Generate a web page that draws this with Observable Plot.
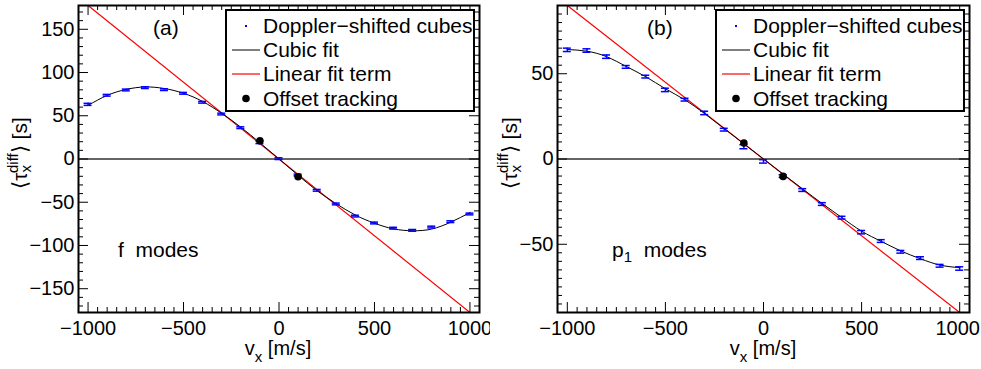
<!DOCTYPE html>
<html><head><meta charset="utf-8">
<script src="https://cdn.jsdelivr.net/npm/d3@7"></script>
<script src="https://cdn.jsdelivr.net/npm/@observablehq/plot@0.6"></script>
<style>
body{margin:0;background:#fff;}
#wrap{position:relative;width:981px;height:369px;display:flex;}
#wrap svg{display:block;}
</style></head><body><div id="wrap"></div>
<script>
// ---- data ----
const vx = [-1000,-900,-800,-700,-600,-500,-400,-300,-200,-100,0,100,200,300,400,500,600,700,800,900,1000];
// panel (a) f modes
const tauA = [63.2,73.7,79.8,82.5,80.2,76,65.6,52,36.2,19.3,0.4,-18.5,-36.2,-52,-66,-74,-80,-82.5,-78.7,-72.5,-63.6];
const errA = [1.2,1,1,1,1,1,1,1,1,1.5,1,1,1,1,1,1,1,1,1,1,1];
const fitA = [62,73.5,80.5,83.3,81.5,76,66.5,52.8,36.8,18.8,0,-18.8,-36.8,-51.8,-64.8,-74.3,-80.8,-83,-81,-73,-62];
const linX = [-1000,1000];
const linA = [177.5,-177.5];
const offX = [-100,100];
const offA = [21,-20.5];
// panel (b) p1 modes
const tauB = [64,63.6,60,54,48.3,40.5,34.8,27,17.2,7.2,-1.4,-10,-18.2,-26.4,-34.4,-42.9,-48.1,-54.4,-58.1,-62.6,-64.2];
const errB = [1,1,1,0.8,0.8,1,0.8,1,0.8,1.2,1,0.8,0.8,0.8,0.8,1,0.8,0.8,0.8,0.8,1];
const fitB = [64.2,63.2,60,54.3,48.2,41.2,34.6,26.6,17.8,8.9,0,-8.9,-17.6,-26.2,-34.4,-42.3,-48.3,-53.9,-58.5,-62.2,-63.7];
const linB = [90,-90];
const offB = [9.4,-10.2];
// ticks
const xMajor = [-1000,-500,0,500,1000];
const yMajorA = [-150,-100,-50,0,50,100,150];
const yMajorB = [-50,0,50];
const legendLabels = ["Doppler\u2212shifted cubes","Cubic fit","Linear fit term","Offset tracking"];

const FONT = '"Liberation Sans", Arial, Helvetica, sans-serif';
const FS = 21, SFS = 15, TFS = 20;
const fmt = d => d < 0 ? "\u2212" + Math.abs(d) : String(d);
const range = (a, b, s) => d3.range(a, b + s / 2, s);

function panel(o) {
  const H = 369, mt = 5, mb = 57;
  const xd = [-1050, 1050];
  const pxX = (xd[1] - xd[0]) / (o.width - o.ml - o.mr);
  const pxY = (o.yd[1] - o.yd[0]) / (H - mt - mb);
  const pts = vx.map((x, i) => ({x, y: o.tau[i], e: o.err[i]}));
  const fit = vx.map((x, i) => ({x, y: o.fit[i]}));
  const lin = linX.map((x, i) => ({x, y: o.lin[i]}));
  const off = offX.map((x, i) => ({x, y: o.off[i]}));
  const xMinor = range(-1050, 1050, 50).filter(v => !xMajor.includes(v) && v > xd[0] && v < xd[1]);
  const yMinor = range(Math.ceil(o.yd[0] / o.ystep) * o.ystep, o.yd[1], o.ystep).filter(v => !o.yMajor.includes(v) && v > o.yd[0] && v < o.yd[1]);
  const [y0, y1] = o.yd, [x0, x1] = xd;
  const capW = 4 * pxX;
  const tk = (len) => ({
    bx: {y1: y0, y2: y0 + len * pxY},
    tx: {y1: y1, y2: y1 - len * pxY},
    ly: {x1: x0, x2: x0 + len * pxX},
    ry: {x1: x1, x2: x1 - len * pxX}
  });
  const M = tk(10), m = tk(5);
  const tickStyle = {stroke: "black", strokeWidth: 1};
  const chart = Plot.plot({
    width: o.width, height: H,
    marginLeft: o.ml, marginRight: o.mr, marginTop: mt, marginBottom: mb,
    x: {domain: xd},
    y: {domain: o.yd},
    style: {fontFamily: FONT, fontSize: TFS + "px", color: "black", background: "white", overflow: "visible"},
    marks: [
      Plot.ruleY([0], {stroke: "#333", strokeWidth: 1.5}),
      Plot.line(lin, {x: "x", y: "y", stroke: "#ff0000", strokeWidth: 1.2, clip: true}),
      Plot.line(fit, {x: "x", y: "y", stroke: "black", strokeWidth: 1, curve: "natural"}),
      Plot.ruleX(pts, {x: "x", y1: d => d.y - d.e, y2: d => d.y + d.e, stroke: "#0000ff", strokeWidth: 1.5}),
      Plot.ruleY(pts, {y: d => d.y - d.e, x1: d => d.x - capW, x2: d => d.x + capW, stroke: "#0000ff", strokeWidth: 1.5}),
      Plot.ruleY(pts, {y: d => d.y + d.e, x1: d => d.x - capW, x2: d => d.x + capW, stroke: "#0000ff", strokeWidth: 1.5}),
      Plot.dot(off, {x: "x", y: "y", r: 3.8, fill: "black"}),
      // inward ticks on all four sides
      Plot.ruleX(xMajor, {x: d => d, ...M.bx, ...tickStyle}),
      Plot.ruleX(xMajor, {x: d => d, ...M.tx, ...tickStyle}),
      Plot.ruleX(xMinor, {x: d => d, ...m.bx, ...tickStyle}),
      Plot.ruleX(xMinor, {x: d => d, ...m.tx, ...tickStyle}),
      Plot.ruleY(o.yMajor, {y: d => d, ...M.ly, ...tickStyle}),
      Plot.ruleY(o.yMajor, {y: d => d, ...M.ry, ...tickStyle}),
      Plot.ruleY(yMinor, {y: d => d, ...m.ly, ...tickStyle}),
      Plot.ruleY(yMinor, {y: d => d, ...m.ry, ...tickStyle}),
      Plot.frame({stroke: "black", strokeWidth: 2}),
      Plot.axisX({ticks: xMajor.slice(0, -1), tickSize: 0, tickPadding: 8, tickFormat: fmt, label: null}),
      Plot.axisX({ticks: xMajor.slice(-1), tickSize: 0, tickPadding: 8, tickFormat: fmt, label: null, dx: o.lastDx}),
      Plot.axisY({ticks: o.yMajor, tickSize: 0, tickPadding: 4, tickFormat: fmt, label: null})
    ]
  });
  const svg = d3.select(chart);
  const g = svg.append("g").attr("font-family", FONT).attr("font-size", FS).attr("fill", "black").attr("text-anchor", "start");
  // x axis title
  const xt = g.append("text").attr("x", o.xcx).attr("y", 355).attr("font-size", 20).attr("text-anchor", "middle");
  xt.append("tspan").text("v");
  xt.append("tspan").attr("font-size", SFS).attr("dy", 7).text("x");
  xt.append("tspan").attr("dy", -7).text(" [m/s]");
  // y axis title
  const yt = g.append("text").attr("transform", `translate(27,153) rotate(-90)`).attr("text-anchor", "middle");
  yt.append("tspan").text("\u27E8\u03C4");
  yt.append("tspan").attr("font-size", SFS).attr("dy", 4).text("x");
  yt.append("tspan").attr("font-size", SFS).attr("dx", -8).attr("dy", -13).text("diff");
  yt.append("tspan").attr("dy", 9).text("\u27E9 [s]");
  // panel label
  g.append("text").attr("x", o.lx).attr("y", 35).text(o.tag);
  // mode label
  const mtx = g.append("text").attr("x", o.mx).attr("y", 257).style("white-space", "pre");
  if (o.sub) {
    mtx.append("tspan").text(o.mode);
    mtx.append("tspan").attr("font-size", SFS).attr("dy", 5).text(o.sub);
    mtx.append("tspan").attr("dy", -5).text("  modes");
  } else {
    mtx.append("tspan").text(o.mode + "  modes");
  }
  // legend
  const L = g.append("g");
  L.append("rect").attr("x", 226).attr("y", 10).attr("width", 248).attr("height", 101)
    .attr("fill", "white").attr("stroke", "black").attr("stroke-width", 2);
  const rows = [26, 50, 74, 98.5];
  L.append("rect").attr("x", 245).attr("y", rows[0] - 1).attr("width", 2).attr("height", 2).attr("fill", "#0000ff");
  L.append("line").attr("x1", 232).attr("x2", 260).attr("y1", rows[1]).attr("y2", rows[1]).attr("stroke", "black").attr("stroke-width", 1);
  L.append("line").attr("x1", 232).attr("x2", 260).attr("y1", rows[2]).attr("y2", rows[2]).attr("stroke", "#ff0000").attr("stroke-width", 1.2);
  L.append("circle").attr("cx", 246).attr("cy", rows[3]).attr("r", 3.8).attr("fill", "black");
  legendLabels.forEach((t, i) => {
    L.append("text").attr("x", 263).attr("y", rows[i] + 7).text(t);
  });
  return chart;
}

const wrap = document.getElementById("wrap");
wrap.appendChild(panel({width: 490, ml: 78, mr: 11, yd: [-177.5, 177.5], ystep: 10, yMajor: yMajorA, lastDx: 0,
  tau: tauA, err: errA, fit: fitA, lin: linA, off: offA, xcx: 278, lx: 153, tag: "(a)", mx: 118, mode: "f", sub: null}));
wrap.appendChild(panel({width: 491, ml: 67, mr: 12, yd: [-90, 90], ystep: 5, yMajor: yMajorB, lastDx: -2,
  tau: tauB, err: errB, fit: fitB, lin: linB, off: offB, xcx: 273, lx: 157, tag: "(b)", mx: 122, mode: "p", sub: "1"}));
</script>
</body></html>
